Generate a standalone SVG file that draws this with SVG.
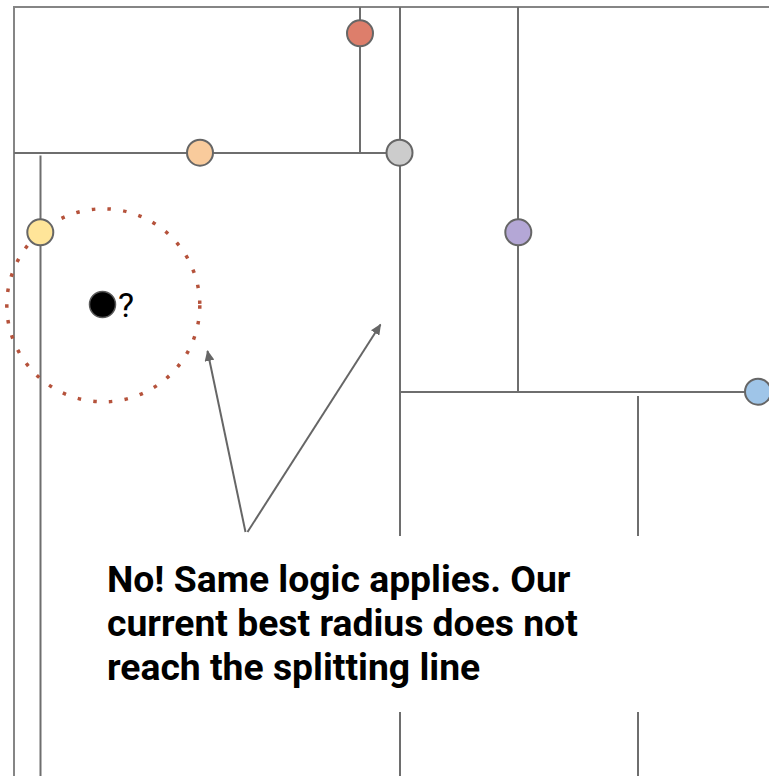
<svg xmlns="http://www.w3.org/2000/svg" width="769" height="776" viewBox="0 0 769 776">
<style>
.ln{stroke:#6e6e6e;stroke-width:2;fill:none}
.fr{stroke:#858585;stroke-width:2;fill:none}
.nd{stroke:#666666;stroke-width:2}
.ar{stroke:#666666;stroke-width:2;fill:none}
.lbl{font-family:Roboto,"Liberation Sans",sans-serif;font-weight:bold;font-size:37.3px;fill:#000}
.q{font-family:Roboto,"Liberation Sans",sans-serif;font-size:34px;fill:#000}
</style>
<defs>
<marker id="ah" markerUnits="userSpaceOnUse" markerWidth="12" markerHeight="10" refX="10" refY="5" orient="auto">
<path d="M0,0 L11,5 L0,10 Z" fill="#666666"/>
</marker>
</defs>
<rect width="769" height="776" fill="#ffffff"/>
<g id="connectors">
<path class="fr" d="M14,776 V7 H769"/>
<line class="ln" x1="14" y1="153" x2="400" y2="153"/>
<line class="ln" x1="360" y1="7" x2="360" y2="153"/>
<line class="ln" x1="400" y1="7" x2="400" y2="536"/>
<line class="ln" x1="400" y1="712" x2="400" y2="776"/>
<line class="ln" x1="40.5" y1="155.5" x2="40.5" y2="776"/>
<line class="ln" x1="518" y1="7" x2="518" y2="392"/>
<line class="ln" x1="400" y1="392" x2="769" y2="392"/>
<line class="ln" x1="638" y1="396" x2="638" y2="536"/>
<line class="ln" x1="638" y1="712" x2="638" y2="776"/>
<line class="ar" x1="245.5" y1="532" x2="207.5" y2="351" marker-end="url(#ah)"/>
<line class="ar" x1="247.5" y1="532" x2="380.5" y2="324.5" marker-end="url(#ah)"/>
</g>
<g id="search-radius">
<circle cx="103.3" cy="305.3" r="96.5" fill="none" stroke="#b5523b" stroke-width="3.5" stroke-dasharray="3.5 12.3"/>
</g>
<g id="node-red"><circle class="nd" cx="360" cy="33.3" r="13" fill="#dd7e6b"/></g>
<g id="node-orange"><circle class="nd" cx="200" cy="152.7" r="13" fill="#f9cb9c"/></g>
<g id="node-gray"><circle class="nd" cx="399.5" cy="152.7" r="13" fill="#cccccc"/></g>
<g id="node-yellow"><circle class="nd" cx="40.3" cy="232.3" r="13" fill="#ffe599"/></g>
<g id="node-purple"><circle class="nd" cx="518.3" cy="232.3" r="13" fill="#b4a7d6"/></g>
<g id="node-blue"><circle class="nd" cx="758" cy="391.7" r="13" fill="#9fc5e8"/></g>
<g id="node-query">
<circle cx="102.5" cy="304.5" r="13" fill="#000000" stroke="#595959" stroke-width="1.5"/>
<text class="q" x="118" y="317">?</text>
</g>
<g id="label">
<text class="lbl" x="107" y="591.7">No! Same logic applies. Our</text>
<text class="lbl" x="107" y="635.7">current best radius does not</text>
<text class="lbl" x="107" y="679.7">reach the splitting line</text>
</g>
</svg>
